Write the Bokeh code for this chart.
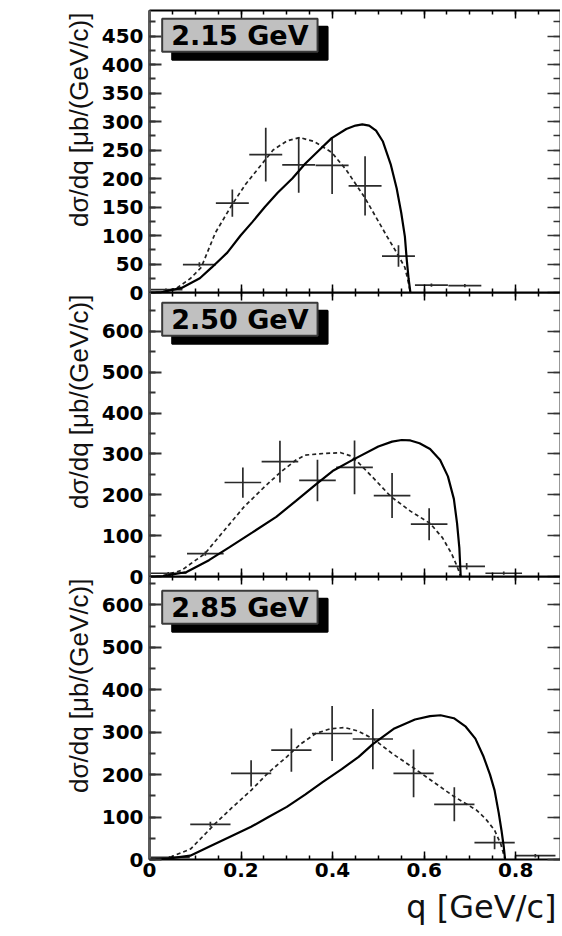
from bokeh.plotting import figure
from bokeh.layouts import column
from bokeh.models import ColumnDataSource, LinearAxis, SingleIntervalTicker, Label, Range1d, Title
from bokeh.embed import file_html
from bokeh.resources import INLINE

# ---------------- data ----------------
panel_labels = ["2.15 GeV", "2.50 GeV", "2.85 GeV"]
y_max = [495, 695, 667]
y_tick_step = [50, 100, 100]
x_tick_labels = {0: "0"}
y_title = "dσ/dq [μb/(GeV/c)]"
x_title = "q [GeV/c]"

# 2.15 GeV
q_215 = [0.036, 0.109, 0.181, 0.254, 0.326, 0.399, 0.471, 0.544, 0.616, 0.689]
v_215 = [5, 49, 157, 242, 224, 223, 187, 64, 13, 12]
e_215 = [2, 4, 24, 47, 49, 50, 52, 19, 3, 3]
hb_215 = 0.036
solid_q_215 = [0.0, 0.03, 0.07, 0.11, 0.136, 0.17, 0.199, 0.225, 0.252, 0.28, 0.312, 0.34, 0.371,
               0.398, 0.43, 0.45, 0.465, 0.48, 0.495, 0.51, 0.527, 0.54, 0.55, 0.558, 0.562, 0.566, 0.570]
solid_v_215 = [0, 1, 8, 25, 44, 70, 100, 124, 150, 175, 200, 226, 250,
               271, 287, 293, 295, 293, 284, 265, 225, 183, 140, 98, 58, 25, 0]
dash_q_215 = [0.0, 0.03, 0.06, 0.09, 0.113, 0.144, 0.181, 0.21, 0.238, 0.27, 0.30, 0.328, 0.36,
              0.398, 0.43, 0.47, 0.50, 0.52, 0.54, 0.558, 0.565, 0.570]
dash_v_215 = [0, 1, 8, 25, 44, 105, 155, 190, 218, 250, 266, 272, 265,
              246, 215, 167, 125, 97, 70, 44, 20, 0]

# 2.50 GeV
q_250 = [0.041, 0.122, 0.204, 0.285, 0.367, 0.448, 0.530, 0.611, 0.693, 0.774]
v_250 = [8, 56, 230, 281, 235, 267, 198, 128, 25, 8]
e_250 = [3, 5, 37, 51, 51, 66, 55, 39, 8, 4]
hb_250 = 0.040
solid_q_250 = [0.0, 0.03, 0.081, 0.13, 0.175, 0.225, 0.277, 0.32, 0.363, 0.40, 0.445, 0.5, 0.53,
               0.551, 0.57, 0.59, 0.613, 0.635, 0.652, 0.665, 0.672, 0.677, 0.680]
solid_v_250 = [0, 1, 11, 40, 72, 108, 146, 185, 225, 258, 286, 318, 330,
               334, 333, 326, 312, 285, 245, 190, 130, 70, 0]
dash_q_250 = [0.0, 0.03, 0.07, 0.121, 0.165, 0.207, 0.25, 0.285, 0.32, 0.34, 0.38, 0.418,
              0.44, 0.457, 0.49, 0.527, 0.57, 0.613, 0.64, 0.66, 0.672, 0.680]
dash_v_250 = [0, 2, 15, 56, 115, 171, 218, 254, 285, 297, 301, 303,
              295, 278, 240, 196, 160, 130, 95, 56, 25, 0]

# 2.85 GeV
q_285 = [0.044, 0.133, 0.222, 0.310, 0.399, 0.488, 0.577, 0.666, 0.754, 0.843]
v_285 = [5, 83, 203, 258, 297, 284, 203, 130, 40, 9]
e_285 = [3, 6, 31, 51, 65, 71, 56, 40, 16, 4]
hb_285 = 0.044
solid_q_285 = [0.0, 0.04, 0.089, 0.13, 0.175, 0.222, 0.26, 0.30, 0.34, 0.379, 0.42, 0.457, 0.488,
               0.535, 0.58, 0.613, 0.636, 0.665, 0.691, 0.712, 0.730, 0.744, 0.754, 0.763, 0.769,
               0.774, 0.777]
solid_v_285 = [0, 2, 9, 30, 53, 77, 100, 124, 153, 183, 213, 242, 272,
               309, 330, 338, 340, 333, 313, 285, 242, 200, 163, 110, 69, 30, 0]
dash_q_285 = [0.0, 0.04, 0.09, 0.144, 0.18, 0.222, 0.26, 0.30, 0.33, 0.363, 0.395, 0.426, 0.455,
              0.488, 0.53, 0.578, 0.62, 0.666, 0.715, 0.735, 0.754, 0.768, 0.777]
dash_v_285 = [0, 3, 25, 85, 122, 163, 205, 242, 272, 297, 308, 311, 303,
              285, 250, 215, 183, 148, 116, 95, 69, 35, 0]

panels = [
    (q_215, v_215, e_215, hb_215, solid_q_215, solid_v_215, dash_q_215, dash_v_215),
    (q_250, v_250, e_250, hb_250, solid_q_250, solid_v_250, dash_q_250, dash_v_250),
    (q_285, v_285, e_285, hb_285, solid_q_285, solid_v_285, dash_q_285, dash_v_285),
]

# ---------------- layout / style ----------------
X_END = 0.898
OVERLAP = 9
heights = [292 + OVERLAP, 284 + OVERLAP, 360]
tops = [10, 0, 0]
bottoms = [OVERLAP, OVERLAP, 77]
margins = [(0, 0, 0, 0), (-OVERLAP, 0, 0, 0), (-OVERLAP, 0, 0, 0)]
box_top = [480.5, 670.2, 633.6]
TICK_FONT = "DejaVu Sans"


def hidden_axis(axis, tick_major, tick_minor, color="black", width=2):
    axis.major_label_text_font_size = "0px"
    axis.major_label_standoff = 0
    axis.major_tick_in = tick_major
    axis.major_tick_out = 0
    axis.minor_tick_in = tick_minor
    axis.minor_tick_out = 0
    axis.axis_line_color = color
    axis.axis_line_width = width
    axis.major_tick_line_color = color
    axis.minor_tick_line_color = color
    axis.major_tick_line_width = 1.5
    axis.minor_tick_line_width = 1.5


figs = []
for i, (q, v, e, hb, sq, sv, dq, dv) in enumerate(panels):
    p = figure(width=560, height=heights[i], x_range=Range1d(0, X_END), y_range=Range1d(0, y_max[i]),
               output_backend="svg", toolbar_location=None,
               min_border_left=149, min_border_right=0,
               min_border_top=tops[i], min_border_bottom=bottoms[i],
               x_axis_location=None, y_axis_location=None, margin=margins[i])
    p.outline_line_color = None
    p.background_fill_alpha = 0
    p.border_fill_alpha = 0 if i > 0 else 1
    p.border_fill_color = "white"

    yt = SingleIntervalTicker(interval=y_tick_step[i], num_minor_ticks=2)
    xt = SingleIntervalTicker(interval=0.2, num_minor_ticks=4)

    left = LinearAxis(ticker=yt)
    left.major_tick_in = 12
    left.major_tick_out = 0
    left.minor_tick_in = 6
    left.minor_tick_out = 0
    left.axis_line_width = 3
    left.axis_line_color = "#5a5a5a"
    left.major_tick_line_color = "#333333"
    left.minor_tick_line_color = "#333333"
    left.major_tick_line_width = 2
    left.minor_tick_line_width = 2
    left.major_label_text_font = TICK_FONT
    left.major_label_text_font_style = "bold"
    left.major_label_text_font_size = "20px"
    left.major_label_text_color = "black"
    left.major_label_standoff = 6
    p.add_layout(left, "left")
    p.add_layout(Title(text=y_title, align="right", text_font="Liberation Sans",
                       text_font_style="normal", text_font_size="26px", text_color="#111111",
                       standoff=10, offset=2), "left")

    right = LinearAxis(ticker=SingleIntervalTicker(interval=y_tick_step[i], num_minor_ticks=2))
    hidden_axis(right, 13, 7, color="#333333", width=2)
    p.add_layout(right, "right")

    top = LinearAxis(ticker=SingleIntervalTicker(interval=0.2, num_minor_ticks=4))
    hidden_axis(top, 8, 4)
    p.add_layout(top, "above")

    bottom = LinearAxis(ticker=xt)
    if i == 2:
        bottom.major_tick_in = 8
        bottom.major_tick_out = 0
        bottom.minor_tick_in = 4
        bottom.minor_tick_out = 0
        bottom.axis_line_width = 2
        bottom.axis_line_color = "black"
        bottom.major_tick_line_width = 1.5
        bottom.minor_tick_line_width = 1.5
        bottom.major_label_text_font = TICK_FONT
        bottom.major_label_text_font_style = "bold"
        bottom.major_label_text_font_size = "20px"
        bottom.major_label_text_color = "black"
        bottom.major_label_standoff = 3
        bottom.major_label_overrides = x_tick_labels
        p.add_layout(bottom, "below")
        p.add_layout(Title(text=x_title, align="right", text_font="DejaVu Sans",
                           text_font_style="normal", text_font_size="32px", text_color="#111111",
                           standoff=12, offset=4), "below")
    else:
        hidden_axis(bottom, 8, 4)
        p.add_layout(bottom, "below")

    p.xgrid.visible = False
    p.ygrid.visible = False

    src = ColumnDataSource(dict(
        q=q, v=v,
        lo=[a - b for a, b in zip(v, e)], hi=[a + b for a, b in zip(v, e)],
        ql=[a - hb for a in q], qr=[a + hb for a in q]))
    p.segment(x0="q", y0="lo", x1="q", y1="hi", source=src, line_color="#2a2a2a", line_width=1.7)
    p.segment(x0="ql", y0="v", x1="qr", y1="v", source=src, line_color="#2a2a2a", line_width=1.7)
    p.line(dq, dv, line_color="#222222", line_width=1.7, line_dash="4 3")
    p.line(sq, sv, line_color="black", line_width=2.2)

    # energy box with shadow
    common = dict(x=0.0277, y=box_top[i], text=panel_labels[i], text_font="DejaVu Sans",
                  text_font_style="bold", text_font_size="27px", text_align="left",
                  text_baseline="top", padding=(9, 1), border_line_width=2)
    p.add_layout(Label(x_offset=10, y_offset=-8, text_color="black", background_fill_color="black",
                       border_line_color="black", **common))
    p.add_layout(Label(x_offset=0, y_offset=0, text_color="black", background_fill_color="#c0c0c0",
                       border_line_color="#3a3a3a", **common))
    figs.append(p)

layout = column(*figs, spacing=0)
open("out.html", "w").write(file_html(layout, INLINE))
